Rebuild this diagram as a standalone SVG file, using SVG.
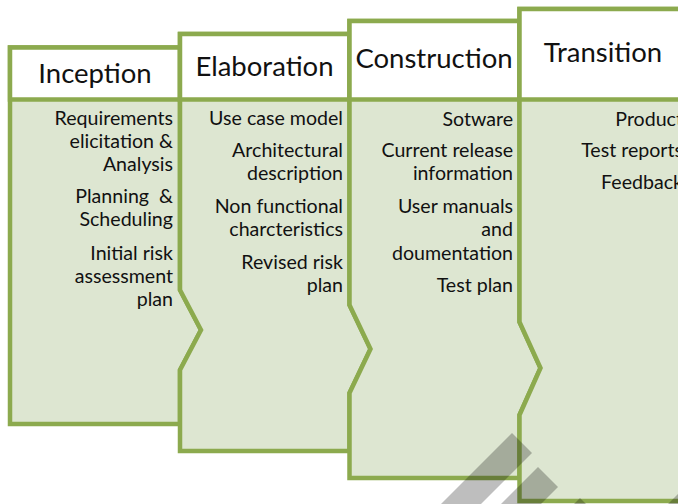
<svg xmlns="http://www.w3.org/2000/svg" width="678" height="504" viewBox="0 0 678 504">
<style>
.body{fill:#DDE6D1;stroke:#8CAA4E;stroke-width:4.5;stroke-linejoin:miter}
.head{fill:#FFFFFF;stroke:#8CAA4E;stroke-width:4.5}
.ht{font-family:Lato,"Liberation Sans",sans-serif;font-size:27.5px;fill:#111;text-anchor:middle}
.bt{font-family:Lato,"Liberation Sans",sans-serif;font-size:19.6px;fill:#111;text-anchor:end}
.wm{fill:#000;opacity:0.25}
</style>
<rect width="678" height="504" fill="#FFFFFF"/>
<g id="inception">
<polygon class="body" points="10,47.5 180,47.5 180,290 201,330 180,370 180,424 10,424"/>
<rect class="head" x="10" y="47.5" width="170" height="52"/>
<text class="ht" x="95" y="83">Inception</text>
<text class="bt" x="173" y="125">Requirements</text>
<text class="bt" x="173" y="148">elicitation &amp;</text>
<text class="bt" x="173" y="171">Analysis</text>
<text class="bt" x="173" y="203" xml:space="preserve">Planning  &amp;</text>
<text class="bt" x="173" y="226">Scheduling</text>
<text class="bt" x="173" y="260">Initial risk</text>
<text class="bt" x="173" y="283">assessment</text>
<text class="bt" x="173" y="306">plan</text>
</g>
<g id="elaboration">
<polygon class="body" points="180,34 349.5,34 349.5,305 370.5,349 349.5,393 349.5,451 180,451 180,370 201,330 180,290"/>
<rect class="head" x="180" y="34" width="169.5" height="65.5"/>
<text class="ht" x="264.5" y="75.5">Elaboration</text>
<text class="bt" x="343" y="125">Use case model</text>
<text class="bt" x="343" y="157">Architectural</text>
<text class="bt" x="343" y="180">description</text>
<text class="bt" x="343" y="213">Non functional</text>
<text class="bt" x="343" y="236">charcteristics</text>
<text class="bt" x="343" y="269">Revised risk</text>
<text class="bt" x="343" y="292">plan</text>
</g>
<g id="construction">
<polygon class="body" points="349.5,21 519.5,21 519.5,322 540.5,368 519.5,415 519.5,478 349.5,478 349.5,393 370.5,349 349.5,305"/>
<rect class="head" x="349.5" y="21" width="170" height="78.5"/>
<text class="ht" x="434" y="68">Construction</text>
<text class="bt" x="513" y="126">Sotware</text>
<text class="bt" x="513" y="157">Current release</text>
<text class="bt" x="513" y="180">information</text>
<text class="bt" x="513" y="213">User manuals</text>
<text class="bt" x="513" y="236">and</text>
<text class="bt" x="513" y="260">doumentation</text>
<text class="bt" x="513" y="292">Test plan</text>
</g>
<g id="transition">
<polygon class="body" points="519.5,9 689,9 689,501 519.5,501 519.5,415 540.5,368 519.5,322"/>
<rect class="head" x="519.5" y="9" width="169.5" height="90.5"/>
<text class="ht" x="603" y="62">Transition</text>
<text class="bt" x="683" y="126">Product</text>
<text class="bt" x="683" y="157">Test reports</text>
<text class="bt" x="683" y="189">Feedback</text>
</g>
<g id="connectors"></g>
<g id="watermark" class="wm">
<polygon points="512,433 532,453 481,504 441,504"/>
<polygon points="538,467 558,487 541,504 501,504"/>
<polygon points="580,498 586,504 574,504"/>
<polygon points="668,504 685,487 702,504"/>
</g>
</svg>
